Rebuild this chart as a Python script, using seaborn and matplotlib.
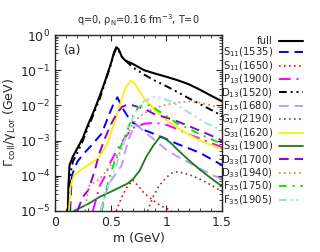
import matplotlib
matplotlib.use("Agg")
import matplotlib.pyplot as plt
import seaborn as sns
import numpy as np
import pandas as pd
from matplotlib.ticker import LogLocator, MultipleLocator, NullFormatter

# ---- data (m in GeV, Gamma_coll/gamma_Lor in GeV) ----
full_m = [0.115, 0.12, 0.13, 0.16, 0.2, 0.25, 0.3, 0.35, 0.4, 0.45, 0.5, 0.53, 0.55, 0.57, 0.6, 0.63, 0.7, 0.8, 0.9, 1.0, 1.1, 1.2, 1.3, 1.4, 1.5]
full_v = [1e-5, 5e-5, 2e-4, 3.5e-4, 6e-4, 1.2e-3, 3e-3, 7e-3, 0.018, 0.05, 0.15, 0.32, 0.45, 0.4, 0.24, 0.19, 0.15, 0.1, 0.08, 0.065, 0.052, 0.04, 0.028, 0.019, 0.013]

d13_m = [0.125, 0.135, 0.16, 0.2, 0.25, 0.3, 0.35, 0.4, 0.45, 0.5, 0.53, 0.55, 0.57, 0.6, 0.63, 0.7, 0.8, 0.9, 1.0, 1.1, 1.2, 1.3, 1.4, 1.5]
d13_v = [1e-5, 1e-4, 2.5e-4, 4.5e-4, 1e-3, 2.5e-3, 6e-3, 0.015, 0.045, 0.14, 0.3, 0.42, 0.38, 0.24, 0.19, 0.12, 0.075, 0.05, 0.035, 0.024, 0.016, 0.011, 0.0075, 0.005]

s11a_m = [0.135, 0.15, 0.2, 0.25, 0.33, 0.42, 0.48, 0.52, 0.56, 0.6, 0.65, 0.7, 0.8, 0.9, 1.0, 1.1, 1.2, 1.3, 1.4, 1.5]
s11a_v = [1e-5, 1e-4, 2.5e-4, 4e-4, 7.5e-4, 1.6e-3, 5e-3, 1e-2, 1.7e-2, 9e-3, 5e-3, 3.2e-3, 2e-3, 1.5e-3, 1.1e-3, 8e-4, 6e-4, 4.5e-4, 3e-4, 2e-4]

s11b_m = [0.55, 0.6, 0.65, 0.7, 0.75, 0.8, 0.88, 0.95, 1.05]
s11b_v = [1e-5, 2.5e-5, 5e-5, 7.5e-5, 5e-5, 3.2e-5, 2e-5, 1.4e-5, 1e-5]

p13_m = [0.34, 0.4, 0.45, 0.5, 0.55, 0.6, 0.65, 0.7, 0.8, 0.9, 1.0, 1.1, 1.2, 1.3, 1.4, 1.5]
p13_v = [1e-5, 5e-5, 1e-4, 2.5e-4, 5e-4, 9e-4, 1.5e-3, 2.3e-3, 3e-3, 3.2e-3, 2.8e-3, 2.1e-3, 1.5e-3, 1.15e-3, 8.5e-4, 6.5e-4]

f15_m = [0.41, 0.45, 0.5, 0.55, 0.6, 0.63, 0.67, 0.72, 0.75, 0.8, 0.9, 1.0, 1.1, 1.2, 1.3, 1.4, 1.5]
f15_v = [1e-5, 3e-5, 7e-5, 1.2e-4, 2e-4, 5e-4, 1.3e-3, 2.8e-3, 2.5e-3, 1.8e-3, 1e-3, 5.5e-4, 3.5e-4, 2.4e-4, 1.6e-4, 1.1e-4, 8e-5]

g17_m = [0.83, 0.88, 0.93, 1.0, 1.05, 1.1, 1.2, 1.3, 1.4, 1.5]
g17_v = [1e-5, 2.5e-5, 5e-5, 9e-5, 1.2e-4, 1.3e-4, 1.1e-4, 8e-5, 5.5e-5, 3.5e-5]

s31a_m = [0.125, 0.14, 0.17, 0.22, 0.3, 0.38, 0.43, 0.48, 0.53, 0.58, 0.63, 0.68, 0.72, 0.8, 0.9, 1.0, 1.1, 1.2, 1.3, 1.4, 1.5]
s31a_v = [1e-5, 5e-5, 1e-4, 1.4e-4, 2e-4, 3e-4, 5e-4, 1e-3, 3e-3, 1e-2, 3e-2, 5e-2, 4e-2, 1.6e-2, 7e-3, 3.8e-3, 2.3e-3, 1.5e-3, 1.0e-3, 7.5e-4, 5.5e-4]

s31b_m = [0.17, 0.3, 0.4, 0.5, 0.6, 0.65, 0.7, 0.76, 0.82, 0.88, 0.94, 0.98, 1.05, 1.1, 1.2, 1.3, 1.4, 1.5]
s31b_v = [1e-5, 1.6e-5, 2.5e-5, 3.5e-5, 5e-5, 6e-5, 8e-5, 1.4e-4, 3.5e-4, 7e-4, 1.25e-3, 1.2e-3, 8e-4, 5.5e-4, 2.8e-4, 1.5e-4, 8.5e-5, 5e-5]

d33a_m = [0.2, 0.25, 0.3, 0.35, 0.4, 0.45, 0.5, 0.55, 0.6, 0.65, 0.7, 0.8, 0.9, 1.0, 1.1, 1.2, 1.3, 1.4, 1.5]
d33a_v = [1e-5, 2.5e-5, 4e-5, 1.2e-4, 4.5e-4, 1.2e-3, 2.8e-3, 5.5e-3, 9e-3, 1.05e-2, 1.0e-2, 8e-3, 5.5e-3, 4.5e-3, 3.5e-3, 2.6e-3, 1.9e-3, 1.4e-3, 1.0e-3]

d33b_m = [0.27, 0.3, 0.4, 0.5, 0.55, 0.6, 0.65, 0.7, 0.75, 0.8, 0.9, 1.0, 1.1, 1.2, 1.3, 1.4, 1.5]
d33b_v = [1e-5, 5e-5, 8e-5, 2e-4, 3e-4, 6e-4, 1.5e-3, 3e-3, 4.5e-3, 6e-3, 8.5e-3, 1.05e-2, 1.2e-2, 1.3e-2, 1.2e-2, 1.0e-2, 8.5e-3]

f35a_m = [0.42, 0.45, 0.5, 0.55, 0.6, 0.65, 0.7, 0.75, 0.8, 0.85, 0.9, 1.0, 1.1, 1.2, 1.3, 1.4, 1.5]
f35a_v = [1e-5, 3e-5, 1.2e-4, 3.5e-4, 8e-4, 2e-3, 5e-3, 9e-3, 1.05e-2, 1e-2, 8e-3, 5e-3, 3e-3, 2.2e-3, 1.5e-3, 1.1e-3, 8e-4]

f35b_m = [0.41, 0.45, 0.5, 0.55, 0.6, 0.65, 0.7, 0.75, 0.8, 0.88, 0.95, 1.05, 1.15, 1.25, 1.35, 1.45, 1.5]
f35b_v = [1e-5, 3e-5, 8e-5, 2e-4, 6e-4, 1.8e-3, 4.5e-3, 9e-3, 1.3e-2, 1.7e-2, 1.65e-2, 1.25e-2, 8e-3, 5e-3, 3.2e-3, 2.3e-3, 2e-3]

labels = ["full", r"S$_{11}$(1535)", r"S$_{11}$(1650)", r"P$_{13}$(1900)", r"D$_{13}$(1520)",
          r"F$_{15}$(1680)", r"G$_{17}$(2190)", r"S$_{31}$(1620)", r"S$_{31}$(1900)",
          r"D$_{33}$(1700)", r"D$_{33}$(1940)", r"F$_{35}$(1750)", r"F$_{35}$(1905)"]
series = [(full_m, full_v), (s11a_m, s11a_v), (s11b_m, s11b_v), (p13_m, p13_v), (d13_m, d13_v),
          (f15_m, f15_v), (g17_m, g17_v), (s31a_m, s31a_v), (s31b_m, s31b_v),
          (d33a_m, d33a_v), (d33b_m, d33b_v), (f35a_m, f35a_v), (f35b_m, f35b_v)]

colors = ["black", "#0000ff", "#ff0000", "#ff00ff", "black", "#c09cf8", "#a52a2a",
          "#ffee00", "#1a7a1a", "#9400d3", "#cd853f", "#00ee00", "#a8d8e8"]
styles = ["-", (0, (5, 3)), (0, (1, 2)), (0, (6, 3, 1, 3)), (0, (4, 2, 1, 2, 1, 2)),
          (0, (5, 3)), (0, (1, 2)), "-", "-", (0, (5, 3)), (0, (1, 2)),
          (0, (4, 3, 1, 3)), (0, (4, 2, 1, 2, 1, 2))]
widths = [1.5, 1.4, 1.2, 1.4, 1.4, 1.4, 1.2, 1.3, 1.3, 1.4, 1.2, 1.4, 1.4]

sns.set_style("ticks")
plt.rcParams['font.family'] = ['DejaVu Sans']
plt.rcParams['mathtext.default'] = 'regular'

fig = plt.figure(figsize=(3.2, 2.52), dpi=100)
ax = fig.add_axes([0.172, 0.163, 0.522, 0.698])

for (xm, yv), lab, c, ls, lw in zip(series, labels, colors, styles, widths):
    sns.lineplot(x=xm, y=yv, ax=ax, color=c, linestyle=ls, linewidth=lw, label=lab,
                 sort=False, estimator=None)

ax.set_yscale("log")
ax.set_xlim(0, 1.5)
ax.set_ylim(1e-5, 1)
ax.xaxis.set_major_locator(MultipleLocator(0.5))
ax.xaxis.set_minor_locator(MultipleLocator(0.1))
ax.set_xticks([0, 0.5, 1, 1.5])
ax.set_xticklabels(["0", "0.5", "1", "1.5"])
ax.yaxis.set_major_locator(LogLocator(base=10, numticks=10))
ax.yaxis.set_minor_locator(LogLocator(base=10, subs=np.arange(2, 10), numticks=10))
ax.yaxis.set_minor_formatter(NullFormatter())
ax.tick_params(which="both", direction="in", top=True, right=True, labelsize=9)
ax.tick_params(which="major", length=4, width=0.8)
ax.tick_params(which="minor", length=2, width=0.6)
for s in ax.spines.values():
    s.set_linewidth(1.0)

ax.set_xlabel("m (GeV)", fontsize=9, labelpad=2)
ax.set_ylabel(r"$\Gamma_{coll}/\gamma_{Lor}$ (GeV)", fontsize=9, labelpad=1)
ax.set_title(r"q=0, $\rho_{N}$=0.16 fm$^{-3}$, T=0", fontsize=7, pad=8)
ax.text(0.05, 0.95, "(a)", transform=ax.transAxes, fontsize=9, va="top", ha="left")

leg = ax.legend(loc="upper left", bbox_to_anchor=(0.99, 1.0), frameon=False,
                markerfirst=False, fontsize=7.2, handlelength=2.4, handletextpad=0.6,
                labelspacing=-0.02, borderaxespad=0.0, borderpad=0.1)

fig.savefig("out.png", dpi=100)
